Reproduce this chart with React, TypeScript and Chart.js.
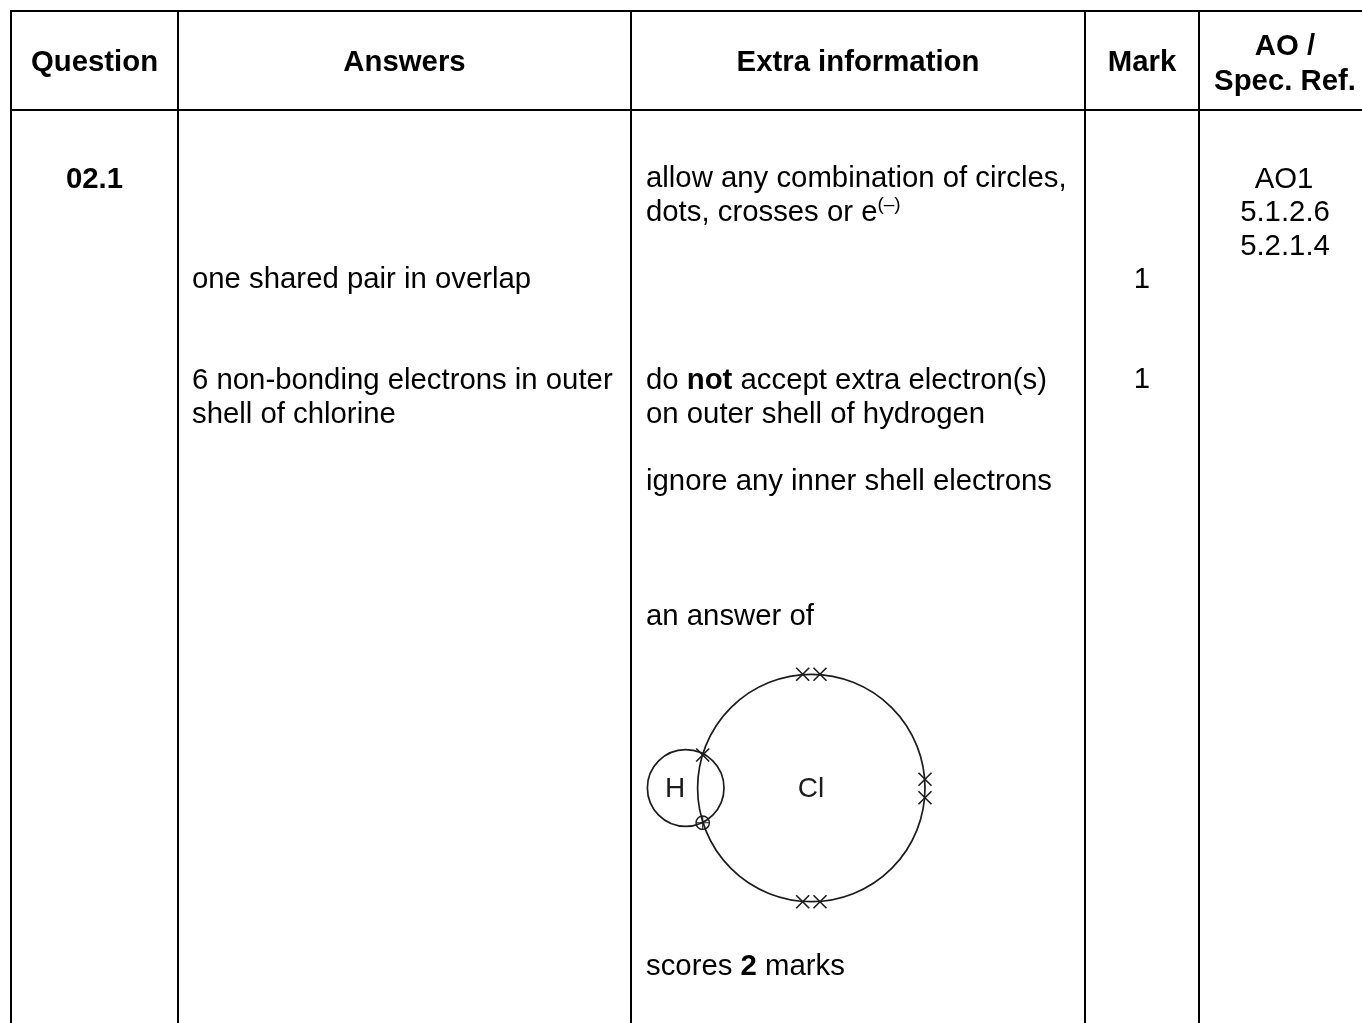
import React, { useEffect, useRef } from "react";
import { Chart, registerables } from "chart.js";

Chart.register(...registerables);

const WIDTH = 1362;
const HEIGHT = 1023;

// Table rules, as [x1, y1, x2, y2] in the reference's coordinates
const tableRules: number[][] = [
  [10, 11, 1362, 11],
  [10, 110, 1362, 110],
  [11, 10, 11, 1023],
  [178, 10, 178, 1023],
  [631, 10, 631, 1023],
  [1085, 10, 1085, 1023],
  [1199, 10, 1199, 1023],
];

// Diagram of HCl
const shellCentres = [
  { x: 811.3, y: 788 },
  { x: 685.7, y: 788 },
];
const shellRadii = [113.7, 38.3];
const crossElectrons = [
  { x: 802.7, y: 674.3 },
  { x: 820, y: 674.3 },
  { x: 802.7, y: 901.7 },
  { x: 820, y: 901.7 },
  { x: 925, y: 779.3 },
  { x: 925, y: 797.7 },
  { x: 702.7, y: 755 },
];
const ringElectrons = [{ x: 702.7, y: 822.7 }];

type Seg = { t: string; b?: boolean; sup?: boolean };
type Cell = { x: number; y: number; a: "l" | "c"; segs: Seg[]; hdr?: boolean };

const headerCells: Cell[] = [
  { x: 94.5, y: 61, a: "c", segs: [{ t: "Question", b: true }] },
  { x: 404.5, y: 61, a: "c", segs: [{ t: "Answers", b: true }] },
  { x: 858, y: 61, a: "c", segs: [{ t: "Extra information", b: true }] },
  { x: 1142, y: 61, a: "c", segs: [{ t: "Mark", b: true }] },
  { x: 1285, y: 45, a: "c", segs: [{ t: "AO /", b: true }] },
  { x: 1285, y: 80, a: "c", segs: [{ t: "Spec. Ref.", b: true }] },
];

const bodyCells: Cell[] = [
  { x: 94.5, y: 178, a: "c", segs: [{ t: "02.1", b: true }] },
  { x: 192, y: 278, a: "l", segs: [{ t: "one shared pair in overlap" }] },
  { x: 192, y: 379, a: "l", segs: [{ t: "6 non-bonding electrons in outer" }] },
  { x: 192, y: 413, a: "l", segs: [{ t: "shell of chlorine" }] },
  { x: 646, y: 177, a: "l", segs: [{ t: "allow any combination of circles," }] },
  { x: 646, y: 211, a: "l", segs: [{ t: "dots, crosses or e" }, { t: "(–)", sup: true }] },
  { x: 646, y: 379, a: "l", segs: [{ t: "do " }, { t: "not", b: true }, { t: " accept extra electron(s)" }] },
  { x: 646, y: 413, a: "l", segs: [{ t: "on outer shell of hydrogen" }] },
  { x: 646, y: 480, a: "l", segs: [{ t: "ignore any inner shell electrons" }] },
  { x: 646, y: 615, a: "l", segs: [{ t: "an answer of" }] },
  { x: 646, y: 965, a: "l", segs: [{ t: "scores " }, { t: "2", b: true }, { t: " marks" }] },
  { x: 1142, y: 278, a: "c", segs: [{ t: "1" }] },
  { x: 1142, y: 378, a: "c", segs: [{ t: "1" }] },
  { x: 1284, y: 178, a: "c", segs: [{ t: "AO1" }] },
  { x: 1285, y: 211, a: "c", segs: [{ t: "5.1.2.6" }] },
  { x: 1285, y: 245, a: "c", segs: [{ t: "5.2.1.4" }] },
];

const diagramLabels = [
  { x: 675, y: 788, t: "H" },
  { x: 811, y: 788, t: "Cl" },
];

function TextCell({ c }: { c: Cell }) {
  return (
    <span
      style={{
        position: "absolute",
        left: c.x,
        top: c.y - 17,
        lineHeight: "34px",
        whiteSpace: "nowrap",
        transform: c.a === "c" ? "translateX(-50%)" : undefined,
      }}
    >
      {c.segs.map((s, i) => (
        <span
          key={i}
          style={{
            fontWeight: s.b ? 700 : 400,
            ...(s.sup ? { fontSize: 19, verticalAlign: 11, lineHeight: 0 } : {}),
          }}
        >
          {s.t}
        </span>
      ))}
    </span>
  );
}

export default function App() {
  const ref = useRef<HTMLCanvasElement | null>(null);

  useEffect(() => {
    document.body.style.margin = "0";
    const ink = "#000000";
    const diagramInk = "#1c1c1c";
    const chart = new Chart(ref.current as HTMLCanvasElement, {
      type: "scatter",
      data: {
        datasets: [
          ...tableRules.map((r) => ({
            data: [
              { x: r[0], y: r[1] },
              { x: r[2], y: r[3] },
            ],
            showLine: true,
            borderColor: ink,
            borderWidth: 2,
            pointRadius: 0,
            clip: false,
          })),
          ...shellCentres.map((p, i) => ({
            data: [p],
            pointStyle: "circle" as const,
            pointRadius: shellRadii[i],
            pointBorderWidth: 1.7,
            pointBorderColor: diagramInk,
            pointBackgroundColor: "transparent",
            clip: false,
          })),
          {
            data: crossElectrons,
            pointStyle: "crossRot" as const,
            pointRadius: 9.2,
            pointBorderWidth: 1.6,
            pointBorderColor: diagramInk,
            clip: false,
          },
          {
            data: ringElectrons,
            pointStyle: "circle" as const,
            pointRadius: 6.7,
            pointBorderWidth: 1.4,
            pointBorderColor: diagramInk,
            pointBackgroundColor: "transparent",
            clip: false,
          },
          {
            data: ringElectrons,
            pointStyle: "cross" as const,
            pointRadius: 6.7,
            pointBorderWidth: 1.1,
            pointBorderColor: diagramInk,
            clip: false,
          },
        ],
      },
      options: {
        animation: false,
        responsive: false,
        layout: { padding: 0, autoPadding: false },
        plugins: { legend: { display: false }, tooltip: { enabled: false } },
        events: [],
        scales: {
          x: { type: "linear", min: 0, max: WIDTH, display: false },
          y: { type: "linear", min: 0, max: HEIGHT, reverse: true, display: false },
        },
      },
    });
    return () => chart.destroy();
  }, []);

  return (
    <div
      style={{
        position: "absolute",
        left: 0,
        top: 0,
        width: WIDTH,
        height: HEIGHT,
        overflow: "hidden",
        background: "#ffffff",
        color: "#000000",
        fontFamily: '"Liberation Sans", Arial, sans-serif',
        fontSize: 29.33,
      }}
    >
      <canvas ref={ref} width={WIDTH} height={HEIGHT} style={{ position: "absolute", left: 0, top: 0, display: "block" }} />
      {headerCells.concat(bodyCells).map((c, i) => (
        <TextCell key={i} c={c} />
      ))}
      {diagramLabels.map((l, i) => (
        <span
          key={i}
          style={{
            position: "absolute",
            left: l.x,
            top: l.y - 17,
            lineHeight: "34px",
            fontSize: 28,
            color: "#1c1c1c",
            transform: "translateX(-50%)",
          }}
        >
          {l.t}
        </span>
      ))}
    </div>
  );
}
